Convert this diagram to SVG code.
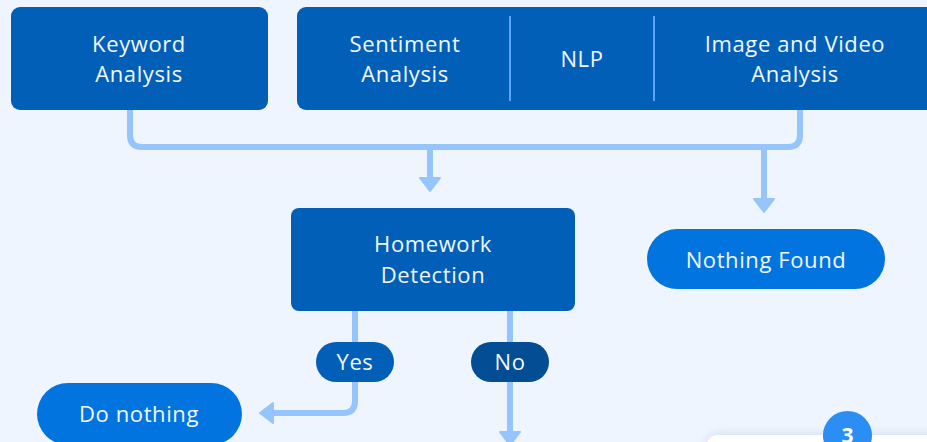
<svg xmlns="http://www.w3.org/2000/svg" width="927" height="442" viewBox="0 0 927 442">
<style>
.bg{fill:#EEF5FE}
.box{fill:#015FB8}
.pill{fill:#0274E0}
.yes{fill:#015FB8}
.no{fill:#024D93}
.conn{fill:none;stroke:#95C5FC;stroke-width:6;stroke-linejoin:round}
.div{stroke:#5AA3F5;stroke-width:2}
.t{font-family:"Open Sans","Liberation Sans",sans-serif;font-size:22px;fill:#F2F7FF;text-anchor:middle;letter-spacing:0.6px}
.num{font-family:"Open Sans","Liberation Sans",sans-serif;font-size:21px;font-weight:700;fill:#FFFFFF;text-anchor:middle}
</style>
<defs>
<marker id="ah" markerUnits="userSpaceOnUse" viewBox="-2 -13 18 26" markerWidth="18" markerHeight="26" refX="1" refY="0" orient="auto">
<path d="M1,-10 L14,0 L1,10 Z" fill="#95C5FC" stroke="#95C5FC" stroke-width="2" stroke-linejoin="round"/>
</marker>
<filter id="sh" x="-20%" y="-50%" width="140%" height="200%">
<feDropShadow dx="0" dy="0" stdDeviation="6" flood-color="#9DB8DA" flood-opacity="0.45"/>
</filter>
</defs>
<rect class="bg" x="0" y="0" width="927" height="442"/>

<g id="connectors">
<path class="conn" d="M130,110 V135 Q130,147 142,147 H788 Q800,147 800,135 V110"/>
<path class="conn" d="M430,147 V178" marker-end="url(#ah)"/>
<path class="conn" d="M764,147 V199" marker-end="url(#ah)"/>
<path class="conn" d="M355,311 V401 Q355,413 343,413 H273" marker-end="url(#ah)"/>
<path class="conn" d="M510,311 V432" marker-end="url(#ah)"/>
</g>

<g id="keyword">
<rect class="box" x="11" y="7" width="257" height="103" rx="9"/>
<text class="t" x="139" y="52">Keyword</text>
<text class="t" x="139" y="82">Analysis</text>
</g>

<g id="analysis-group">
<rect class="box" x="297" y="7" width="650" height="103" rx="9"/>
<line class="div" x1="510" y1="16" x2="510" y2="101"/>
<line class="div" x1="654" y1="16" x2="654" y2="101"/>
<text class="t" x="405" y="52">Sentiment</text>
<text class="t" x="405" y="82">Analysis</text>
<text class="t" x="582" y="67">NLP</text>
<text class="t" x="795" y="52">Image and Video</text>
<text class="t" x="795" y="82">Analysis</text>
</g>

<g id="homework">
<rect class="box" x="291" y="208" width="284" height="103" rx="8"/>
<text class="t" x="433" y="252">Homework</text>
<text class="t" x="433" y="283">Detection</text>
</g>

<g id="nothing-found">
<rect class="pill" x="647" y="229" width="238" height="60" rx="30"/>
<text class="t" x="766" y="268">Nothing Found</text>
</g>

<g id="yes">
<rect class="yes" x="316" y="342" width="78" height="40" rx="20"/>
<text class="t" x="355" y="370">Yes</text>
</g>

<g id="no">
<rect class="no" x="471" y="342" width="78" height="40" rx="20"/>
<text class="t" x="510" y="370">No</text>
</g>

<g id="do-nothing">
<rect class="pill" x="37" y="383" width="205" height="62" rx="31"/>
<text class="t" x="139" y="422">Do nothing</text>
</g>

<g id="step-card">
<rect x="707" y="435" width="250" height="40" rx="10" fill="#FFFFFF" filter="url(#sh)"/>
<circle cx="847.5" cy="435.5" r="24.5" fill="#2A8EF5"/>
<text class="num" x="847.5" y="443">3</text>
</g>
</svg>
